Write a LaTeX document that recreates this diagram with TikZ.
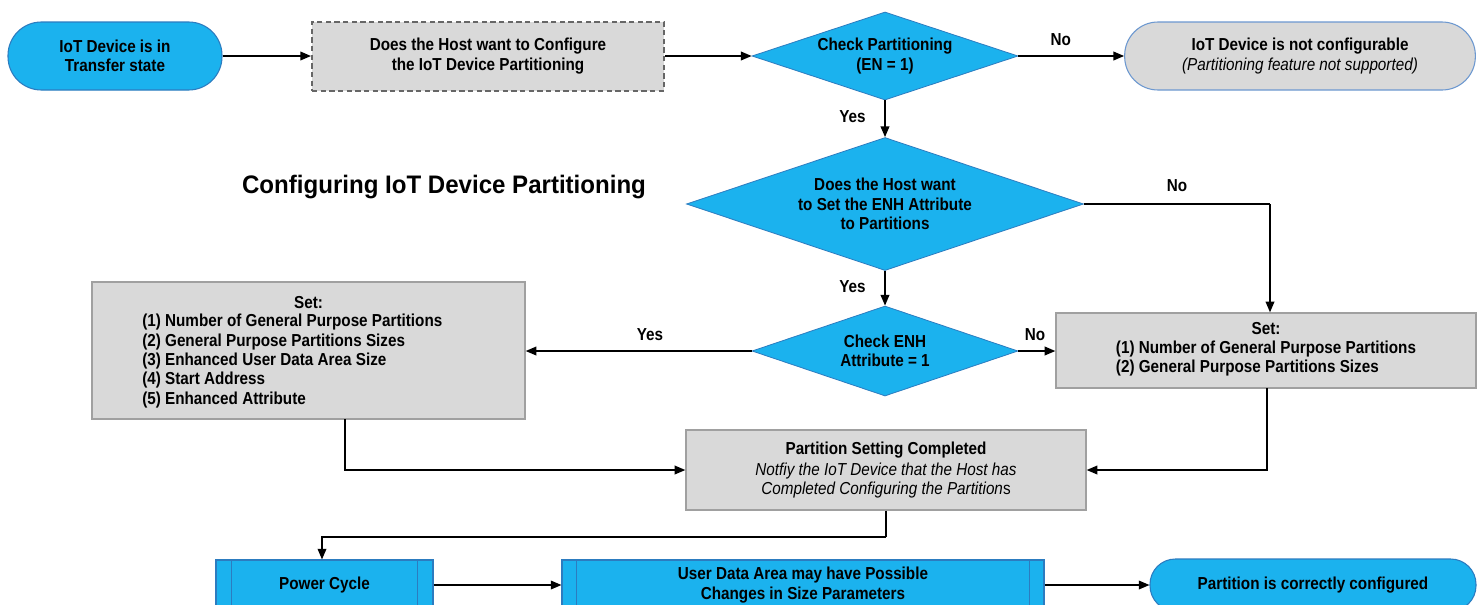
\documentclass[tikz,border=0pt]{standalone}
\usepackage{fontspec}
\setmainfont[FakeStretch=0.88]{Liberation Sans}
\newfontfamily\titlefont[FakeStretch=0.95]{Liberation Sans}
\usetikzlibrary{shapes.geometric,arrows.meta}
\definecolor{bfill}{HTML}{1BB2EE}
\definecolor{bline}{HTML}{2C7CC0}
\definecolor{gfill}{HTML}{D9D9D9}
\definecolor{gline}{HTML}{A0A0A0}
\definecolor{tline}{HTML}{6C98D0}
\begin{document}
\begin{tikzpicture}[x=0.75pt,y=-0.75pt,
  every node/.style={font=\fontsize{13}{14.5}\selectfont\bfseries, align=center, inner sep=0pt},
  term/.style={draw=bline, fill=bfill, line width=0.8pt, rounded corners=25pt, minimum height=51pt},
  gterm/.style={draw=tline, fill=gfill, line width=0.8pt, rounded corners=25pt, minimum height=51pt},
  gbox/.style={draw=gline, fill=gfill, line width=1pt},
  dbox/.style={draw=black!60, fill=gfill, line width=1.5pt, dash pattern=on 4pt off 2.5pt},
  dia/.style={shape=diamond, draw=bline, fill=bfill, line width=0.6pt},
  pbox/.style={draw=bline, fill=bfill, line width=0.8pt},
  lbl/.style={font=\fontsize{13}{14.5}\selectfont\bfseries},
  arr/.style={line width=1.1pt, -{Triangle[length=8pt,width=6.5pt]}},
  ln/.style={line width=1.1pt}]
\useasboundingbox (0,0) rectangle (1480,604);
\clip (0,0) rectangle (1480,604);
\fill[white] (0,0) rectangle (1480,604);

% top row
\node[term, minimum width=160.5pt] (start) at (115,56) {IoT Device is in\\Transfer state};
\node[dbox, minimum width=264pt, minimum height=51.75pt] (q1) at (488,56) {Does the Host want to Configure\\the IoT Device Partitioning};
\node[dia, minimum width=199.5pt, minimum height=66pt] (d1) at (885,56) {};
\node at (d1) {Check Partitioning\\(EN = 1)};
\node[gterm, minimum width=263pt] (nc) at (1300,56) {IoT Device is not configurable\\{\mdseries\itshape (Partitioning feature not supported)}};

\draw[arr] (start) -- (q1);
\draw[arr] (q1) -- (d1);
\draw[arr] (d1) -- node[lbl, above=7pt, pos=0.4] {No} (nc);

% title
\node[font=\titlefont\fontsize{19}{22}\selectfont\bfseries] (title) at (444,187) {Configuring IoT Device Partitioning};

% diamond 2
\node[dia, minimum width=297.75pt, minimum height=99.75pt] (d2) at (885,204) {};
\node at (d2) {Does the Host want\\to Set the ENH Attribute\\to Partitions};
\draw[arr] (d1.south) -- node[lbl, left=14pt, pos=0.45] {Yes} (d2.north);

% diamond 3
\node[dia, minimum width=199.5pt, minimum height=67.5pt] (d3) at (885,351) {};
\node at (d3) {Check ENH\\Attribute = 1};
\draw[arr] (d2.south) -- node[lbl, left=14pt, pos=0.45] {Yes} (d3.north);

% left box
\node[gbox, minimum width=324.75pt, minimum height=102.75pt] (lb) at (308.5,350.5) {};
\node (lbset) at (308.5,303) {Set:};
\node[align=left, anchor=north west] (lblist) at (142,314) {(1) Number of General Purpose Partitions\\(2) General Purpose Partitions Sizes\\(3) Enhanced User Data Area Size\\(4) Start Address\\(5) Enhanced Attribute};

% right box
\node[gbox, minimum width=315pt, minimum height=56.25pt] (rb) at (1266,350.5) {Set:\\[3pt]\begin{tabular}{@{}l@{}}(1) Number of General Purpose Partitions\\(2) General Purpose Partitions Sizes\end{tabular}};

\draw[arr] (d3.west) -- node[lbl, above=7pt, pos=0.45] {Yes} (lb.east |- d3.west);
\draw[arr] (d3.east) -- node[lbl, above=7pt, pos=0.45] {No} (rb.west |- d3.east);
\draw[ln] (d2.east) -- node[lbl, above=9pt, pos=0.5] {No} (1270,204) coordinate (c1);
\draw[arr] (c1) -- (c1 |- rb.north);

% middle box
\node[gbox, minimum width=300pt, minimum height=60pt] (mb) at (886,470) {Partition Setting Completed\\[1pt]{\mdseries\itshape Notfiy the IoT Device that the Host has}\\{\mdseries\itshape Completed Configuring the Partition}{\mdseries s}};

\coordinate (lbb) at (345,419);
\draw[arr] (lbb) |- (mb.west);
\coordinate (rbb) at (1267,388);
\draw[arr] (rbb) |- (mb.east);

% bottom row
\node[pbox, minimum width=162.75pt, minimum height=39pt] (pc) at (324.5,586) {};
\node at (324.5,585) {Power Cycle};
\draw[line width=0.8pt, draw=bline] ([xshift=12pt]pc.north west) -- ([xshift=12pt]pc.south west);
\draw[line width=0.8pt, draw=bline] ([xshift=-12pt]pc.north east) -- ([xshift=-12pt]pc.south east);

\node[pbox, minimum width=361.5pt, minimum height=39pt] (ud) at (803,586) {};
\node at (803,585) {User Data Area may have Possible\\Changes in Size Parameters};
\draw[line width=0.8pt, draw=bline] ([xshift=11.25pt]ud.north west) -- ([xshift=11.25pt]ud.south west);
\draw[line width=0.8pt, draw=bline] ([xshift=-11.25pt]ud.north east) -- ([xshift=-11.25pt]ud.south east);

\node[term, minimum width=244.5pt, minimum height=39pt, rounded corners=19pt] (fin) at (1313,585) {Partition is correctly configured};

\draw[ln] (mb.south) -- (886,537) coordinate (c2);
\draw[arr] (c2) -| (pc.north -| 322,0);
\draw[arr] (pc.east |- 0,585) -- (ud.west |- 0,585);
\draw[arr] (ud.east |- 0,585) -- (fin.west);
\end{tikzpicture}
\end{document}
